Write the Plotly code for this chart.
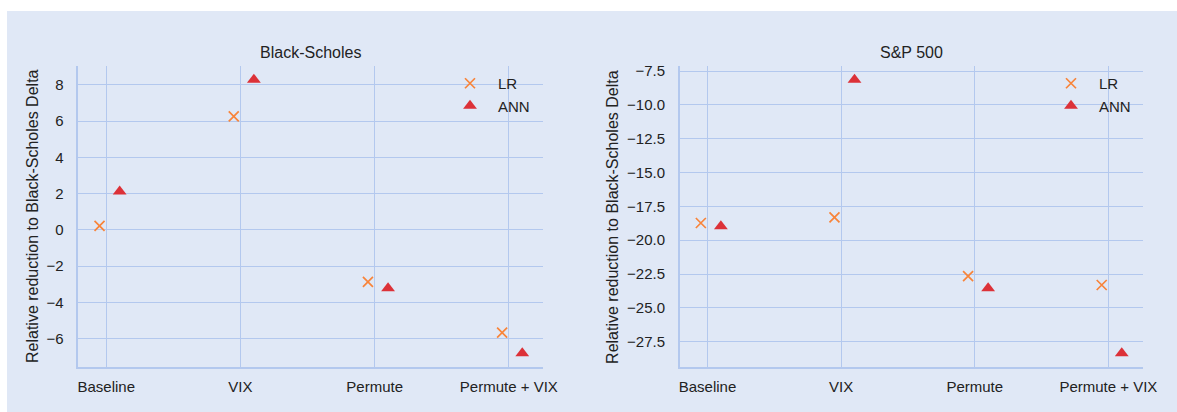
import plotly.graph_objects as go

# ---- data ----
categories = ["Baseline", "VIX", "Permute", "Permute + VIX"]
bs_lr = [0.22, 6.26, -2.87, -5.67]
bs_ann = [2.12, 8.29, -3.22, -6.81]
sp_lr = [-18.73, -18.31, -22.65, -23.31]
sp_ann = [-18.97, -8.14, -23.56, -28.36]

# ---- style constants ----
W, H = 1177, 412          # reference canvas size (positions are fractions of it)
LR_OFF, ANN_OFF = -0.05, 0.10
ORANGE = "#f8843a"
RED = "#dc3138"
FIG_BG = "#e0e8f6"
PLOT_BG = "#e9ebf4"
GRID = "#b3c8ee"
FONT = "Liberation Sans, Arial, sans-serif"
TXT = "#222222"

idx = list(range(len(categories)))

def px_x(p):
    return p / W

def px_y(p):
    return (H - p) / H

fig = go.Figure()

panels = [
    ("x", "y", bs_lr, bs_ann, "legend"),
    ("x2", "y2", sp_lr, sp_ann, "legend2"),
]
for xa, ya, lr, ann, lg in panels:
    fig.add_trace(go.Scatter(
        x=[i + LR_OFF for i in idx], y=lr, mode="markers", name="LR",
        xaxis=xa, yaxis=ya, legend=lg,
        marker=dict(symbol="x-thin", size=10, color=ORANGE,
                    line=dict(color=ORANGE, width=1.7)),
    ))
    fig.add_trace(go.Scatter(
        x=[i + ANN_OFF for i in idx], y=ann, mode="markers", name="ANN",
        xaxis=xa, yaxis=ya, legend=lg,
        marker=dict(symbol="triangle-up", size=12, color=RED),
    ))

def yrange(a, b):
    vals = a + b
    lo, hi = min(vals), max(vals)
    m = (hi - lo) * 0.05
    return [lo - m, hi + m]

span = len(idx) - 1 + ANN_OFF - LR_OFF
xr = [min(idx) + LR_OFF - 0.05 * span, max(idx) + ANN_OFF + 0.05 * span]

ydom = [px_y(367), px_y(66)]
common_x = dict(
    tickmode="array", tickvals=idx, ticktext=categories, range=xr,
    showgrid=True, gridcolor=GRID, gridwidth=1.3, zeroline=False,
    showline=True, linecolor=GRID, linewidth=1.5, ticks="",
    ticklabelstandoff=5,
    tickfont=dict(size=15, color=TXT, family=FONT),
)
common_y = dict(
    showgrid=True, gridcolor=GRID, gridwidth=1.3, zeroline=False,
    showline=True, linecolor=GRID, linewidth=1.5, ticks="",
    ticklabelstandoff=10,
    tickfont=dict(size=15, color=TXT, family=FONT),
)

leg_common = dict(xanchor="left", yanchor="top", bgcolor="rgba(0,0,0,0)",
                  font=dict(size=15, color=TXT, family=FONT),
                  itemwidth=46, tracegroupgap=0)

fig.update_layout(
    autosize=True,
    margin=dict(l=0, r=0, t=0, b=0, autoexpand=False),
    paper_bgcolor="white",
    plot_bgcolor=PLOT_BG,
    font=dict(family=FONT, size=15, color=TXT),
    xaxis=dict(domain=[px_x(78.4), px_x(543.4)], anchor="y", **common_x),
    yaxis=dict(domain=ydom, anchor="x", range=yrange(bs_lr, bs_ann),
               dtick=2, tick0=0, **common_y),
    xaxis2=dict(domain=[px_x(679.8), px_x(1142.8)], anchor="y2", **common_x),
    yaxis2=dict(domain=ydom, anchor="x2", range=yrange(sp_lr, sp_ann),
                dtick=2.5, tick0=0, tickformat=".1f", **common_y),
    legend=dict(x=px_x(442), y=px_y(67), **leg_common),
    legend2=dict(x=px_x(1043), y=px_y(67), **leg_common),
    showlegend=True,
    shapes=[dict(type="rect", xref="paper", yref="paper",
                 x0=px_x(7), x1=1, y0=0, y1=px_y(11),
                 fillcolor=FIG_BG, line=dict(width=0), layer="below")],
    annotations=[
        dict(text="Black-Scholes", xref="paper", yref="paper",
             x=(px_x(78.4) + px_x(543.4)) / 2, y=px_y(52),
             xanchor="center", yanchor="middle", showarrow=False,
             font=dict(size=16, color=TXT)),
        dict(text="S&P 500", xref="paper", yref="paper",
             x=(px_x(679.8) + px_x(1142.8)) / 2, y=px_y(52),
             xanchor="center", yanchor="middle", showarrow=False,
             font=dict(size=16, color=TXT)),
        dict(text="Relative reduction to Black-Scholes Delta", xref="paper",
             yref="paper", x=px_x(32.5), y=px_y(216.5), textangle=-90,
             xanchor="center", yanchor="middle", showarrow=False,
             font=dict(size=16, color=TXT)),
        dict(text="Relative reduction to Black-Scholes Delta", xref="paper",
             yref="paper", x=px_x(612.4), y=px_y(216.5), textangle=-90,
             xanchor="center", yanchor="middle", showarrow=False,
             font=dict(size=16, color=TXT)),
    ],
)

post = (
    "var de=document.documentElement, b=document.body;"
    "de.style.margin='0';de.style.padding='0';de.style.overflow='hidden';"
    "de.style.height='100vh';"
    "b.style.margin='0';b.style.padding='0';b.style.overflow='hidden';"
    "b.style.height='100vh';"
    "de.style.background='linear-gradient(to bottom, white 11px, "
    + FIG_BG + " 11px)';"
    "var gd=document.getElementById('{plot_id}');"
    "gd.style.width='100vw';gd.style.height='100vh';"
    "if(gd.parentElement){gd.parentElement.style.width='100vw';"
    "gd.parentElement.style.height='100vh';}"
    "Plotly.Plots.resize(gd);"
)

fig.write_html(
    "out.html",
    config={"displayModeBar": False, "responsive": True},
    default_width="100vw",
    default_height="100vh",
    post_script=post,
)
